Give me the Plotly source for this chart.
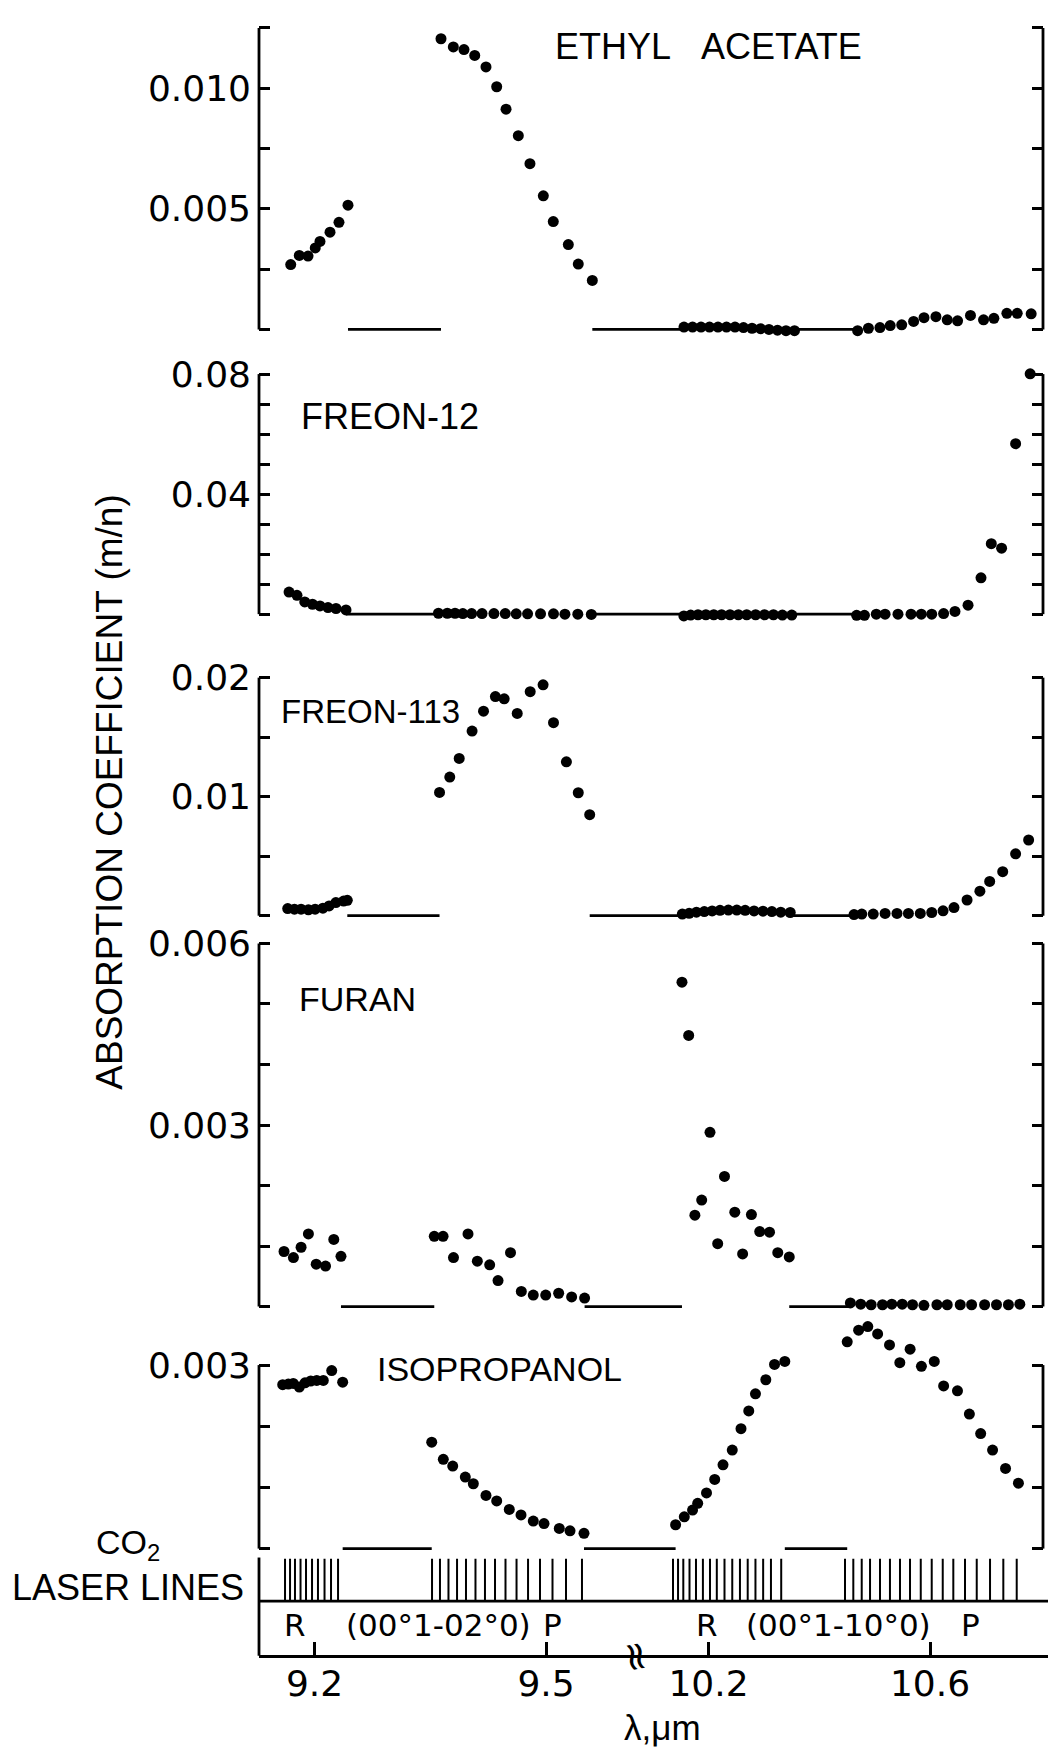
import plotly.graph_objects as go

# ---------------- data: wavelength (um) and absorption coefficient (m/n) ----------------
ETHYL_ACETATE_WL = [9.1692, 9.1803, 9.1916, 9.2010, 9.2071, 9.2201, 9.2317, 9.2434,
                    9.3639, 9.3799, 9.3937, 9.4076, 9.4222, 9.4361, 9.4482, 9.4641, 9.4792, 9.4965,
                    9.5094, 9.5289, 9.5418, 9.5600,
                    10.1557, 10.1712, 10.1865, 10.2018, 10.2171, 10.2325, 10.2479, 10.2632, 10.2786,
                    10.2939, 10.3092, 10.3246, 10.3400, 10.3553,
                    10.4693, 10.4888, 10.5096, 10.5281, 10.5489, 10.5704, 10.5892, 10.6107, 10.6311,
                    10.6498, 10.6731, 10.6967, 10.7154, 10.7388, 10.7575, 10.7827]
ETHYL_ACETATE_K = [0.00269, 0.00307, 0.00304, 0.00338, 0.00365, 0.00403, 0.00444, 0.00515,
                   0.01205, 0.01171, 0.01160, 0.01136, 0.01088, 0.01006, 0.00913, 0.00803, 0.00687, 0.00554,
                   0.00447, 0.00352, 0.00271, 0.00203,
                   0.00010, 0.00010, 0.00010, 0.00010, 0.00010, 0.00010, 0.00010, 0.00008, 0.00005,
                   0.00003, 0.00000, -0.00003, -0.00005, -0.00005,
                   -0.00005, 0.00005, 0.00008, 0.00016, 0.00019, 0.00033, 0.00049, 0.00053, 0.00040,
                   0.00036, 0.00058, 0.00040, 0.00046, 0.00067, 0.00067, 0.00065]

FREON12_WL = [9.1670, 9.1773, 9.1874, 9.1974, 9.2071, 9.2175, 9.2279, 9.2408,
              9.3606, 9.3721, 9.3821, 9.3922, 9.4036, 9.4171, 9.4325, 9.4472, 9.4614, 9.4761,
              9.4929, 9.5097, 9.5245, 9.5412, 9.5587,
              10.1555, 10.1678, 10.1811, 10.1953, 10.2095, 10.2236, 10.2388, 10.2539, 10.2690,
              10.2851, 10.3012, 10.3173, 10.3334, 10.3504,
              10.4675, 10.4816, 10.5030, 10.5189, 10.5422, 10.5657, 10.5843, 10.6031, 10.6246,
              10.6451, 10.6687, 10.6921, 10.7107, 10.7293, 10.7546, 10.7809]
FREON12_K = [0.00737, 0.00628, 0.00407, 0.00330, 0.00274, 0.00221, 0.00188, 0.00142,
             0.0003, 0.0003, 0.0003, 0.0002, 0.0002, 0.0002, 0.0002, 0.0002, 0.0001, 0.0001,
             0.0001, 0.0001, 0.0000, 0.0000, -0.0001,
             -0.0006, -0.0003, -0.0002, -0.0002, -0.0002, -0.0002, -0.0002, -0.0002, -0.0002,
             -0.0002, -0.0002, -0.0002, -0.0003, -0.0003,
             -0.0004, -0.0004, 0.0000, 0.0000, 0.0000, 0.0000, 0.0000, 0.0000, 0.0002,
             0.0009, 0.0030, 0.0121, 0.0235, 0.0220, 0.0568, 0.0801]

FREON113_WL = [9.1653, 9.1740, 9.1826, 9.1921, 9.2008, 9.2109, 9.2189, 9.2277, 9.2377, 9.2425,
               9.3620, 9.3753, 9.3875, 9.4042, 9.4190, 9.4344, 9.4458, 9.4627, 9.4795, 9.4962,
               9.5097, 9.5264, 9.5418, 9.5566,
               10.1527, 10.1650, 10.1782, 10.1924, 10.2066, 10.2208, 10.2359, 10.2511, 10.2662,
               10.2823, 10.2984, 10.3144, 10.3305, 10.3476,
               10.4628, 10.4768, 10.4975, 10.5189, 10.5404, 10.5610, 10.5825, 10.6031, 10.6236,
               10.6433, 10.6669, 10.6901, 10.7078, 10.7313, 10.7546, 10.7781]
FREON113_K = [0.00060, 0.00055, 0.00055, 0.00050, 0.00055, 0.00063, 0.00082, 0.00110, 0.00123, 0.00129,
              0.01036, 0.01165, 0.01321, 0.01551, 0.01718, 0.01841, 0.01822, 0.01699, 0.01882, 0.01940,
              0.01622, 0.01293, 0.01033, 0.00849,
              0.00014, 0.00020, 0.00030, 0.00035, 0.00040, 0.00045, 0.00047, 0.00047, 0.00045,
              0.00040, 0.00038, 0.00035, 0.00030, 0.00027,
              0.00010, 0.00014, 0.00014, 0.00019, 0.00019, 0.00019, 0.00019, 0.00027, 0.00041,
              0.00068, 0.00132, 0.00206, 0.00288, 0.00370, 0.00520, 0.00636]

FURAN_WL = [9.1605, 9.1727, 9.1826, 9.1921, 9.2022, 9.2143, 9.2250, 9.2343,
            9.3552, 9.3666, 9.3801, 9.3989, 9.4110, 9.4270, 9.4378, 9.4540, 9.4680, 9.4835,
            9.4996, 9.5164, 9.5332, 9.5500,
            10.1521, 10.1642, 10.1754, 10.1877, 10.2027, 10.2166, 10.2289, 10.2475, 10.2616,
            10.2775, 10.2925, 10.3102, 10.3251, 10.3458,
            10.4562, 10.4749, 10.4937, 10.5142, 10.5310, 10.5498, 10.5684, 10.5890, 10.6125,
            10.6311, 10.6546, 10.6751, 10.6986, 10.7201, 10.7416, 10.7622]
FURAN_K = [0.00091, 0.00081, 0.00098, 0.00120, 0.00070, 0.00067, 0.00111, 0.00083,
           0.00116, 0.00116, 0.00081, 0.00120, 0.00075, 0.00069, 0.00043, 0.00089, 0.00025, 0.00019,
           0.00019, 0.00022, 0.00016, 0.00014,
           0.00536, 0.00448, 0.00151, 0.00176, 0.00288, 0.00104, 0.00215, 0.00156, 0.00087,
           0.00152, 0.00124, 0.00123, 0.00089, 0.00082,
           0.00006, 0.00004, 0.00003, 0.00003, 0.00004, 0.00004, 0.00003, 0.00002, 0.00003,
           0.00003, 0.00003, 0.00003, 0.00003, 0.00003, 0.00003, 0.00004]

ISOPROPANOL_WL = [9.1588, 9.1661, 9.1725, 9.1803, 9.1877, 9.1951, 9.2029, 9.2114, 9.2223, 9.2365,
                  9.3519, 9.3669, 9.3791, 9.3954, 9.4058, 9.4222, 9.4361, 9.4524, 9.4676, 9.4835,
                  9.4974, 9.5172, 9.5311, 9.5492,
                  10.1406, 10.1563, 10.1712, 10.1805, 10.1964, 10.2112, 10.2262, 10.2429, 10.2587,
                  10.2727, 10.2848, 10.3035, 10.3192, 10.3378,
                  10.4505, 10.4711, 10.4877, 10.5054, 10.5269, 10.5455, 10.5641, 10.5845, 10.6077,
                  10.6246, 10.6496, 10.6711, 10.6915, 10.7130, 10.7364, 10.7597]
ISOPROPANOL_K = [0.00268, 0.00269, 0.00270, 0.00264, 0.00271, 0.00274, 0.00275, 0.00275, 0.00291, 0.00272,
                 0.00174, 0.00146, 0.00135, 0.00117, 0.00106, 0.00087, 0.00078, 0.00064, 0.00055, 0.00045,
                 0.00041, 0.00033, 0.00029, 0.00025,
                 0.00039, 0.00052, 0.00063, 0.00074, 0.00091, 0.00113, 0.00137, 0.00161, 0.00196,
                 0.00225, 0.00253, 0.00276, 0.00301, 0.00306,
                 0.00338, 0.00357, 0.00363, 0.00351, 0.00333, 0.00304, 0.00326, 0.00298, 0.00306,
                 0.00266, 0.00258, 0.00220, 0.00188, 0.00161, 0.00131, 0.00107]

# CO2 laser lines (um)
CO2_9R = [9.1618, 9.1683, 9.1747, 9.1819, 9.1890, 9.1968, 9.2045, 9.2130, 9.2214, 9.2305]
CO2_9P = [9.3523, 9.3626, 9.3736, 9.3847, 9.3963, 9.4086, 9.4209, 9.4339, 9.4475, 9.4618,
          9.4767, 9.4922, 9.5084, 9.5259, 9.5466]
CO2_10R = [10.1359, 10.1450, 10.1545, 10.1657, 10.1774, 10.1899, 10.2027, 10.2150, 10.2289, 10.2429,
           10.2568, 10.2708, 10.2848, 10.2987, 10.3128, 10.3313]
CO2_10P = [10.4465, 10.4615, 10.4767, 10.4917, 10.5097, 10.5277, 10.5458, 10.5639, 10.5833, 10.6031,
           10.6230, 10.6421, 10.6632, 10.6844, 10.7084, 10.7324, 10.7566]

X_TICKS_LEFT = [9.2, 9.5]
X_TICKS_RIGHT = [10.2, 10.6]
X_TICKTEXT_LEFT = ["9.2", "9.5"]
X_TICKTEXT_RIGHT = ["10.2", "10.6"]

# labelled (major) and unlabelled (minor) y ticks of each panel
Y1_MAJOR, Y1_TEXT, Y1_MINOR = [0.005, 0.010], ["0.005", "0.010"], [0, 0.0025, 0.0075, 0.0125]
Y2_MAJOR, Y2_TEXT, Y2_MINOR = [0.04, 0.08], ["0.04", "0.08"], [0, 0.01, 0.02, 0.03, 0.05, 0.06, 0.07]
Y3_MAJOR, Y3_TEXT, Y3_MINOR = [0.01, 0.02], ["0.01", "0.02"], [0, 0.005, 0.015]
Y4_MAJOR, Y4_TEXT, Y4_MINOR = [0.003, 0.006], ["0.003", "0.006"], [0, 0.001, 0.002, 0.004, 0.005]
Y5_MAJOR, Y5_TEXT, Y5_MINOR = [0.003], ["0.003"], [0, 0.001, 0.002]

# ---------------- geometry ----------------
W, H = 1048, 1747


def PX(x):
    return x / W


def PY(y):
    return 1 - y / H


XL0, XBRK, XR1 = 259, 634, 1043
X_LEFT_RANGE = [9.12808, 9.61401]
X_RIGHT_RANGE = [10.065463, 10.813093]
AXIS_Y = 1655
LW = 2.8
BLACK = "black"
LABEL_FONT = "Liberation Sans, Arial, sans-serif"
TICK_FONT = "DejaVu Sans, sans-serif"

panels = [
    dict(wl=ETHYL_ACETATE_WL, k=ETHYL_ACETATE_K, zero=318, top=14, ext=8, topv=0.0125,
         tv=Y1_MAJOR, tt=Y1_TEXT, mv=Y1_MINOR, label="ETHYL\u00a0\u00a0\u00a0ACETATE", lx=553, ly=33, ls=36),
    dict(wl=FREON12_WL, k=FREON12_K, zero=605, top=363, ext=357, topv=0.08,
         tv=Y2_MAJOR, tt=Y2_TEXT, mv=Y2_MINOR, label="FREON-12", lx=299, ly=406, ls=36),
    dict(wl=FREON113_WL, k=FREON113_K, zero=909, top=669, ext=663, topv=0.02,
         tv=Y3_MAJOR, tt=Y3_TEXT, mv=Y3_MINOR, label="FREON-113", lx=279, ly=703, ls=33),
    dict(wl=FURAN_WL, k=FURAN_K, zero=1303, top=937, ext=931, topv=0.006,
         tv=Y4_MAJOR, tt=Y4_TEXT, mv=Y4_MINOR, label="FURAN", lx=297, ly=993, ls=34),
    dict(wl=ISOPROPANOL_WL, k=ISOPROPANOL_K, zero=1547, top=1362, ext=1300, topv=0.003,
         tv=Y5_MAJOR, tt=Y5_TEXT, mv=Y5_MINOR, label="ISOPROPANOL", lx=375, ly=1366, ls=34),
]

fig = go.Figure()
layout = dict(width=W, height=H, margin=dict(l=0, r=0, t=0, b=0), autosize=False,
              paper_bgcolor="white", plot_bgcolor="rgba(0,0,0,0)", showlegend=False)
shapes = []
annotations = []

marker = dict(size=11, color=BLACK)

for i, p in enumerate(panels):
    yname = "y" if i == 0 else f"y{i + 1}"
    ykey = "yaxis" if i == 0 else f"yaxis{i + 1}"
    pad = 6
    upp = p["topv"] / (p["zero"] - p["top"])
    layout[ykey] = dict(
        domain=[PY(p["zero"] + pad), PY(p["ext"])],
        range=[-pad * upp, (p["zero"] - p["ext"]) * upp],
        anchor="x3", showline=False, showgrid=False, zeroline=False,
        ticks="inside", ticklen=11, tickwidth=LW, tickcolor=BLACK, mirror="ticks",
        tickmode="array", tickvals=p["tv"], ticktext=p["tt"],
        minor=dict(tickmode="array", tickvals=p["mv"], ticks="inside", ticklen=11,
                   tickwidth=LW, tickcolor=BLACK, showgrid=False),
        tickfont=dict(family=TICK_FONT, size=36, color=BLACK), ticklabelstandoff=7,
    )
    wl, k = p["wl"], p["k"]
    left = [(w, v) for w, v in zip(wl, k) if w < 10]
    right = [(w, v) for w, v in zip(wl, k) if w >= 10]
    for pts, xa in ((left, "x"), (right, "x2")):
        fig.add_trace(go.Scatter(x=[a for a, _ in pts], y=[b for _, b in pts], xaxis=xa, yaxis=yname,
                                 mode="markers", marker=marker, cliponaxis=False, hoverinfo="skip"))
    # zero baseline drawn in the gaps between the laser bands
    b9r = [w for w in wl if w < 9.3]
    b9p = [w for w in wl if 9.3 <= w < 10]
    b10r = [w for w in wl if 10 <= w < 10.4]
    b10p = [w for w in wl if w >= 10.4]
    fig.add_trace(go.Scatter(x=[max(b9r), min(b9p), None, max(b9p), X_LEFT_RANGE[1]],
                             y=[0, 0, None, 0, 0], xaxis="x", yaxis=yname, mode="lines",
                             line=dict(color=BLACK, width=LW), hoverinfo="skip"))
    fig.add_trace(go.Scatter(x=[X_RIGHT_RANGE[0], min(b10r), None, max(b10r), min(b10p)],
                             y=[0, 0, None, 0, 0], xaxis="x2", yaxis=yname, mode="lines",
                             line=dict(color=BLACK, width=LW), hoverinfo="skip"))
    fig.add_trace(go.Scatter(x=[None], y=[None], xaxis="x3", yaxis=yname, mode="markers",
                             hoverinfo="skip"))
    # frame verticals
    for xp in (XL0, XR1):
        shapes.append(dict(type="line", xref="paper", yref="paper", x0=PX(xp), x1=PX(xp),
                           y0=PY(p["zero"]), y1=PY(p["top"]), line=dict(color=BLACK, width=LW)))
    annotations.append(dict(text=p["label"], xref="paper", yref="paper", x=PX(p["lx"]), y=PY(p["ly"]),
                            xanchor="left", yanchor="middle", showarrow=False,
                            font=dict(family=LABEL_FONT, size=p["ls"], color=BLACK)))

# CO2 laser lines panel
for lines, xa in ((CO2_9R + CO2_9P, "x"), (CO2_10R + CO2_10P, "x2")):
    xs, ys = [], []
    for w in lines:
        xs += [w, w, None]
        ys += [0, 1, None]
    fig.add_trace(go.Scatter(x=xs, y=ys, xaxis=xa, yaxis="y6", mode="lines",
                             line=dict(color=BLACK, width=2), hoverinfo="skip"))
layout["yaxis6"] = dict(domain=[PY(1600), PY(1557)], range=[0, 1], anchor="x3", visible=False)

xcommon = dict(anchor="free", position=PY(AXIS_Y), showline=True, linewidth=LW, linecolor=BLACK,
               ticks="inside", ticklen=13, tickwidth=LW, tickcolor=BLACK, showgrid=False, zeroline=False,
               tickfont=dict(family=TICK_FONT, size=36, color=BLACK), ticklabelstandoff=-5)
layout["xaxis"] = dict(domain=[PX(XL0), PX(XBRK)], range=X_LEFT_RANGE, tickmode="array",
                       tickvals=X_TICKS_LEFT, ticktext=X_TICKTEXT_LEFT, **xcommon)
layout["xaxis2"] = dict(domain=[PX(XBRK), 1.0], range=X_RIGHT_RANGE, tickmode="array",
                        tickvals=X_TICKS_RIGHT, ticktext=X_TICKTEXT_RIGHT, **xcommon)
layout["xaxis3"] = dict(domain=[PX(XL0), PX(XR1)], range=[0, 1], anchor="y", visible=False)

# laser panel frame pieces
shapes.append(dict(type="line", xref="paper", yref="paper", x0=PX(XL0), x1=PX(XL0),
                   y0=PY(1556), y1=PY(AXIS_Y), line=dict(color=BLACK, width=LW)))
shapes.append(dict(type="line", xref="paper", yref="paper", x0=PX(XL0), x1=1.0,
                   y0=PY(1600), y1=PY(1600), line=dict(color=BLACK, width=LW)))


def txt(t, x, y, size, xanchor="center", angle=0, family=LABEL_FONT):
    annotations.append(dict(text=t, xref="paper", yref="paper", x=PX(x), y=PY(y), xanchor=xanchor,
                            yanchor="middle", showarrow=False, textangle=angle,
                            font=dict(family=family, size=size, color=BLACK)))


txt("ABSORPTION COEFFICIENT (m/n)", 110, 785, 37, angle=-90)
txt("CO<sub>2</sub>", 94, 1543, 34, xanchor="left")
txt("LASER LINES", 10, 1586, 36, xanchor="left")
txt("R", 295, 1624, 31, family=TICK_FONT)
txt("(00°1-02°0)", 438, 1624, 31, family=TICK_FONT)
txt("P", 552, 1624, 31, family=TICK_FONT)
txt("R", 707, 1624, 31, family=TICK_FONT)
txt("(00°1-10°0)", 838, 1624, 31, family=TICK_FONT)
txt("P", 970, 1624, 31, family=TICK_FONT)
txt("λ,μm", 662, 1727, 35)
txt("≈", 634, 1656, 40, angle=-100, family=TICK_FONT)

layout["shapes"] = shapes
layout["annotations"] = annotations
fig.update_layout(**layout)
fig.write_html("out.html")
